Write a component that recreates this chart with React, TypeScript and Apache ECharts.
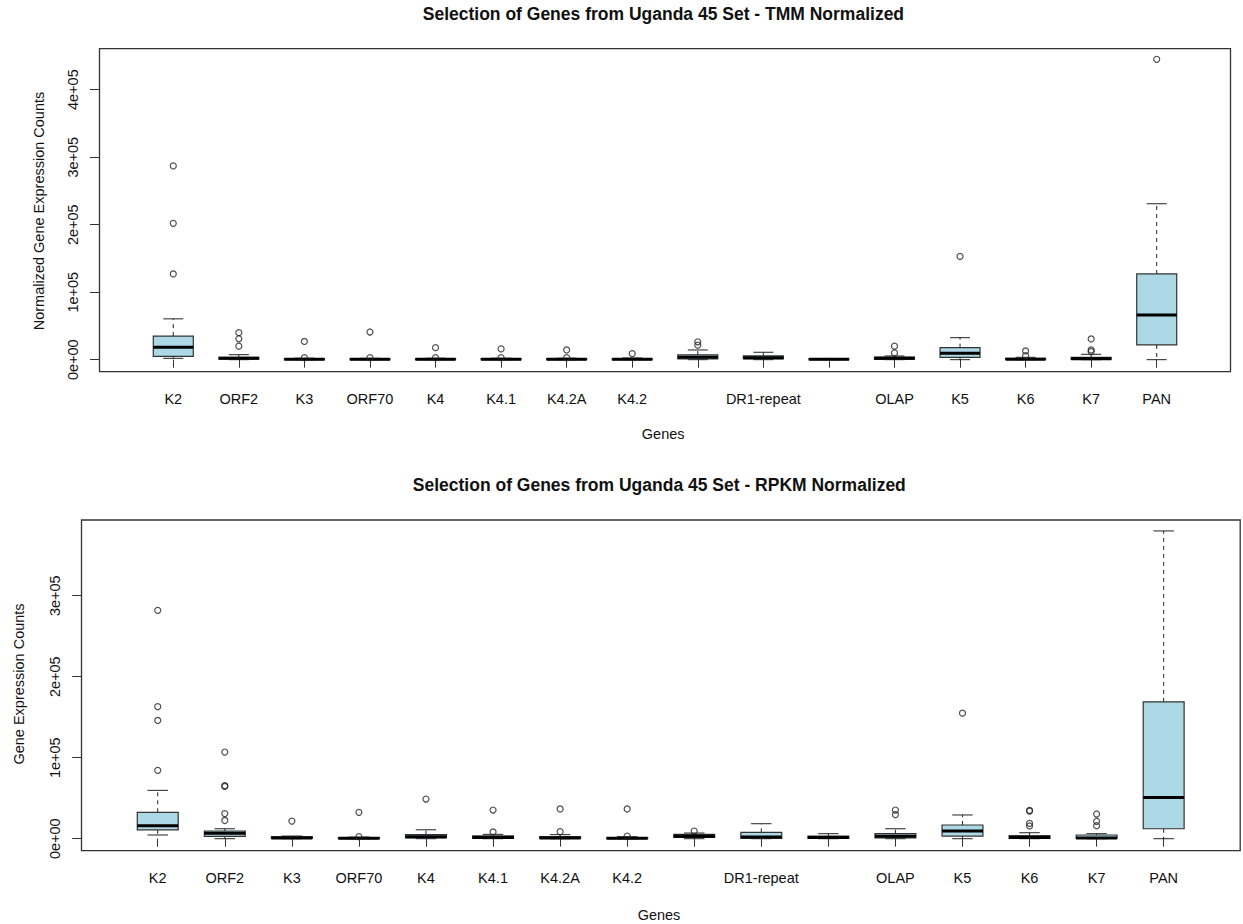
import React, { useEffect, useRef } from "react";
import * as echarts from "echarts";

// ---------- data ----------
const genes = ["K2", "ORF2", "K3", "ORF70", "K4", "K4.1", "K4.2A", "K4.2", "", "DR1-repeat", "", "OLAP", "K5", "K6", "K7", "PAN"];

// [min, Q1, median, Q3, max] per gene (TMM normalized)
const tmmStats = [
  [2000, 5000, 18400, 35000, 60500],
  [0, 800, 2000, 3500, 7400],
  [0, 200, 600, 1500, 2200],
  [0, 200, 500, 1200, 2000],
  [0, 200, 600, 1500, 2200],
  [0, 200, 600, 1500, 2200],
  [0, 200, 600, 1500, 2200],
  [0, 200, 500, 1300, 2500],
  [0, 1000, 3500, 7000, 14400],
  [0, 1000, 3000, 5500, 11000],
  [0, 200, 500, 1200, 1800],
  [0, 500, 2000, 4000, 5500],
  [0, 3500, 9500, 17800, 32600],
  [0, 300, 800, 2000, 3500],
  [0, 500, 1500, 3500, 8000],
  [0, 21800, 66200, 127000, 231000],
];
const tmmOutliers = [
  [287000, 202000, 127000],
  [40000, 31000, 20000],
  [27000, 3000],
  [41000, 3000],
  [17800, 3000],
  [16000, 3000],
  [14400, 3000],
  [8900],
  [26500, 21500],
  [],
  [],
  [20000, 10000],
  [153000],
  [12900, 6000],
  [30700, 14400, 12000],
  [445000],
];

// [min, Q1, median, Q3, max] per gene (RPKM normalized)
const rpkmStats = [
  [4600, 11000, 16000, 32600, 59700],
  [0, 3000, 6600, 9500, 12300],
  [0, 300, 1000, 2500, 3300],
  [0, 200, 600, 1500, 2000],
  [0, 1000, 2500, 5000, 11000],
  [0, 500, 1500, 3500, 5400],
  [0, 300, 1000, 2500, 5000],
  [0, 200, 500, 1500, 2500],
  [0, 1500, 3000, 5400, 7000],
  [0, 500, 2000, 7900, 18500],
  [0, 500, 1500, 3300, 6200],
  [0, 1000, 3000, 6200, 12300],
  [0, 3300, 9500, 16900, 29300],
  [0, 300, 1500, 3700, 7400],
  [0, 300, 1000, 4600, 6200],
  [0, 12300, 51000, 169000, 380000],
];
const rpkmOutliers = [
  [282000, 163000, 146000, 84400],
  [107000, 65500, 64500, 31000, 22500],
  [21800],
  [32600, 2500],
  [49000],
  [35400, 8300],
  [36700, 8700],
  [36700, 3300],
  [9500],
  [],
  [],
  [35400, 29700],
  [155000],
  [35000, 34000, 19000, 15700],
  [30500, 21500, 16000],
  [],
];

const tmmTicks = [0, 100000, 200000, 300000, 400000];
const rpkmTicks = [0, 100000, 200000, 300000];

// ---------- styling ----------
const FONT = "'Liberation Sans', Arial, sans-serif";
const TEXT = "#111";
const LINE = "#333";
const FILL = "#ADD8E6";

const fmtSci = (v: number) => {
  if (v === 0) return "0e+00";
  const exp = Math.floor(Math.log10(Math.abs(v)));
  const mant = Math.round(v / Math.pow(10, exp));
  return `${mant}e+${String(exp).padStart(2, "0")}`;
};

const renderBox = (params: any, api: any) => {
  const x = api.value(0);
  const pMin = api.coord([x, api.value(1)]);
  const pQ1 = api.coord([x, api.value(2)]);
  const pMed = api.coord([x, api.value(3)]);
  const pQ3 = api.coord([x, api.value(4)]);
  const pMax = api.coord([x, api.value(5)]);
  const band = api.size([1, 0])[0];
  const half = band * 0.305;
  const cx = pMed[0];
  const whisker = { stroke: "#222", lineWidth: 1, lineDash: [4, 4] };
  const solid = { stroke: "#222", lineWidth: 1 };
  return {
    type: "group",
    children: [
      { type: "line", shape: { x1: cx, y1: pQ3[1], x2: cx, y2: pMax[1] }, style: whisker },
      { type: "line", shape: { x1: cx, y1: pQ1[1], x2: cx, y2: pMin[1] }, style: whisker },
      { type: "line", shape: { x1: cx - half / 2, y1: pMax[1], x2: cx + half / 2, y2: pMax[1] }, style: solid },
      { type: "line", shape: { x1: cx - half / 2, y1: pMin[1], x2: cx + half / 2, y2: pMin[1] }, style: solid },
      {
        type: "rect",
        shape: { x: cx - half, y: pQ3[1], width: half * 2, height: pQ1[1] - pQ3[1] },
        style: { fill: FILL, stroke: LINE, lineWidth: 1.2 },
      },
      { type: "line", shape: { x1: cx - half, y1: pMed[1], x2: cx + half, y2: pMed[1] }, style: { stroke: "#000", lineWidth: 3 } },
    ],
  };
};

const boxData = (stats: number[][]) => stats.map((s, i) => [i, ...s]);
const outlierData = (outs: number[][]) => {
  const res: number[][] = [];
  outs.forEach((list, i) => list.forEach((v) => res.push([i, v])));
  return res;
};

const xAxisCfg = (gridIndex: number) => ({
  type: "category",
  gridIndex,
  data: genes,
  boundaryGap: true,
  axisLine: { show: false },
  axisTick: { show: true, alignWithLabel: true, length: 8, lineStyle: { color: LINE, width: 1 } },
  axisLabel: { interval: 0, margin: 20, fontSize: 14.5, fontFamily: FONT, color: TEXT },
  splitLine: { show: false },
});

const yAxisCfg = (gridIndex: number, min: number, max: number, ticks: number[], offset: number) => ({
  type: "value",
  gridIndex,
  min,
  max,
  offset,
  axisLine: { show: false },
  splitLine: { show: false },
  axisTick: { show: true, length: 9, customValues: ticks, lineStyle: { color: LINE, width: 1 } },
  axisLabel: {
    customValues: ticks,
    rotate: 90,
    margin: 19,
    fontSize: 14.5,
    fontFamily: FONT,
    color: TEXT,
    formatter: (v: number) => fmtSci(v),
  },
});

const textEl = (text: string, x: number, y: number, size: number, bold = false, rotation = 0) => ({
  type: "text",
  x,
  y,
  rotation,
  silent: true,
  style: {
    text,
    fill: TEXT,
    font: `${bold ? "bold " : ""}${size}px ${FONT}`,
    align: "center",
    verticalAlign: "middle",
  },
});

export default function App() {
  const ref = useRef<HTMLDivElement>(null);
  useEffect(() => {
    if (!ref.current) return;
    const chart = echarts.init(ref.current, undefined, { renderer: "svg" });
    chart.setOption({
      animation: false,
      backgroundColor: "#fff",
      grid: [
        { left: 140.5, right: 53.5, top: 48.7, height: 323 },
        { left: 124.2, right: 45.8, top: 520, height: 330.7 },
      ],
      xAxis: [xAxisCfg(0), xAxisCfg(1)],
      yAxis: [
        yAxisCfg(0, -17800, 460700, tmmTicks, 41.5),
        yAxisCfg(1, -14800, 393500, rpkmTicks, 43),
      ],
      series: [
        {
          type: "custom",
          xAxisIndex: 0,
          yAxisIndex: 0,
          renderItem: renderBox,
          encode: { x: 0, y: [1, 2, 3, 4, 5] },
          data: boxData(tmmStats),
        },
        {
          type: "scatter",
          xAxisIndex: 0,
          yAxisIndex: 0,
          symbol: "circle",
          symbolSize: 6,
          itemStyle: { color: "rgba(0,0,0,0)", borderColor: "#222", borderWidth: 1.2 },
          data: outlierData(tmmOutliers),
        },
        {
          type: "custom",
          xAxisIndex: 1,
          yAxisIndex: 1,
          renderItem: renderBox,
          encode: { x: 0, y: [1, 2, 3, 4, 5] },
          data: boxData(rpkmStats),
        },
        {
          type: "scatter",
          xAxisIndex: 1,
          yAxisIndex: 1,
          symbol: "circle",
          symbolSize: 6,
          itemStyle: { color: "rgba(0,0,0,0)", borderColor: "#222", borderWidth: 1.2 },
          data: outlierData(rpkmOutliers),
        },
      ],
      graphic: [
        {
          type: "rect",
          silent: true,
          shape: { x: 99.5, y: 48.7, width: 1131, height: 323 },
          style: { fill: "none", stroke: LINE, lineWidth: 1.3 },
        },
        {
          type: "rect",
          silent: true,
          shape: { x: 81.5, y: 520, width: 1158.7, height: 330.7 },
          style: { fill: "none", stroke: LINE, lineWidth: 1.3 },
        },
        textEl("Selection of Genes from Uganda 45 Set - TMM Normalized", 663.4, 14, 17.5, true),
        textEl("Selection of Genes from Uganda 45 Set - RPKM Normalized", 659.3, 485, 17.5, true),
        textEl("Genes", 663.2, 434, 14.5),
        textEl("Genes", 659, 915, 14.5),
        textEl("Normalized Gene Expression Counts", 38.5, 211, 14.5, false, Math.PI / 2),
        textEl("Gene Expression Counts", 19, 684, 14.5, false, Math.PI / 2),
      ],
    });
    return () => chart.dispose();
  }, []);
  return <div ref={ref} style={{ position: "absolute", left: 0, top: 0, width: 1243, height: 924 }} />;
}
